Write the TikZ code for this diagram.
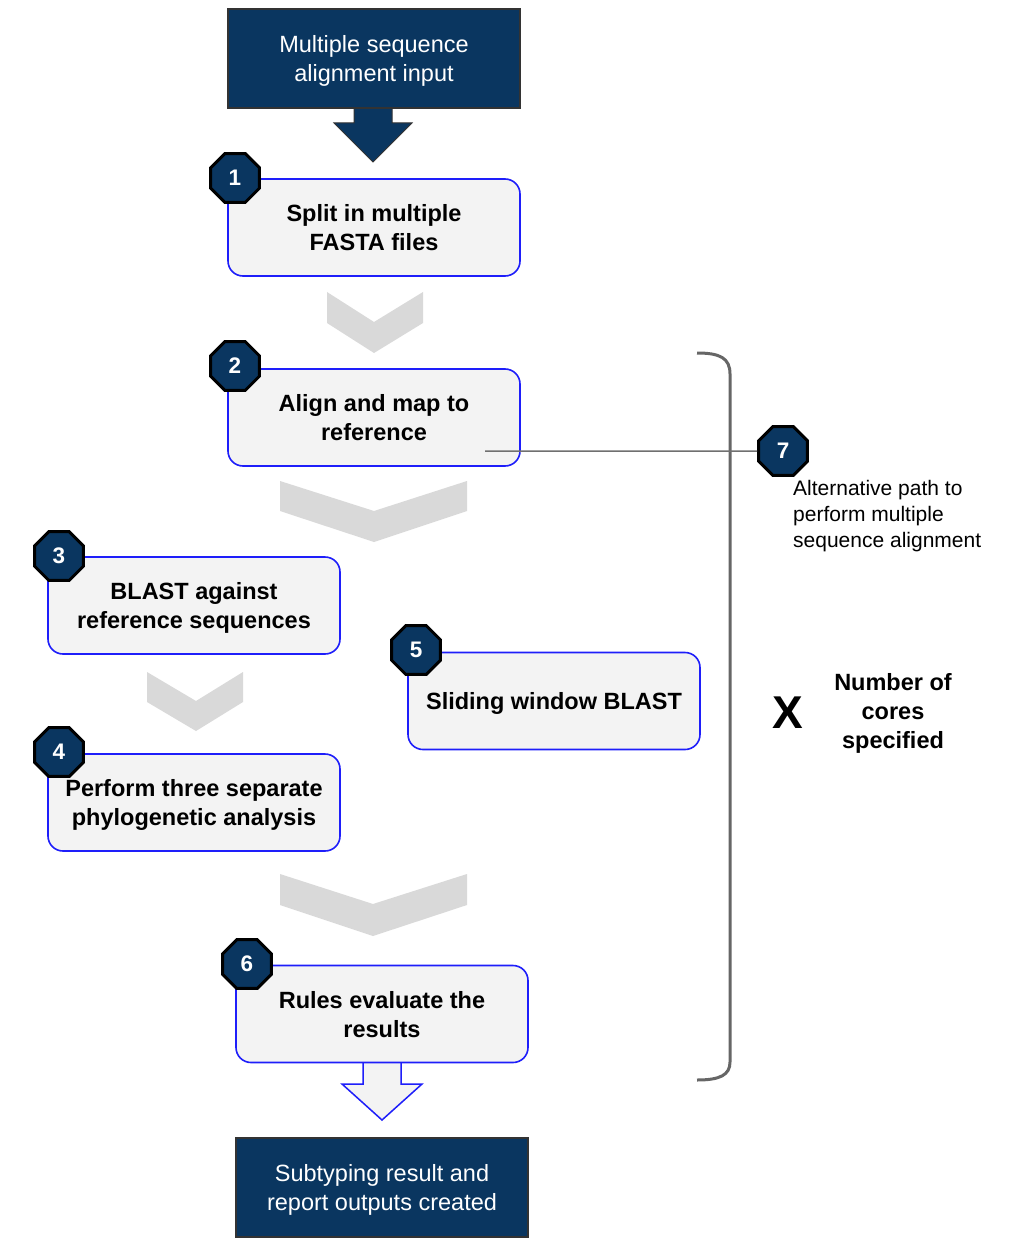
\documentclass[tikz,border=0pt]{standalone}
\usepackage{fontspec}
\setmainfont{Liberation Sans}
\usetikzlibrary{shapes.geometric}
\definecolor{navy}{RGB}{10,54,96}
\definecolor{boxfill}{RGB}{243,243,243}
\definecolor{boxline}{RGB}{30,30,250}
\definecolor{chev}{RGB}{217,217,217}
\definecolor{brk}{RGB}{102,102,102}
\definecolor{lnk}{RGB}{112,112,112}
\begin{document}
\begin{tikzpicture}[x=1pt,y=-1pt,
 stepbox/.style={draw=boxline, line width=1.6pt, fill=boxfill, rounded corners=15pt, minimum width=292pt, minimum height=97pt, align=center, inner sep=0pt, text depth=0pt, font=\fontsize{23.5}{29}\selectfont\bfseries},
 navybox/.style={draw=black!80, line width=1.2pt, fill=navy, minimum width=292pt, minimum height=99pt, align=center, inner sep=0pt, text depth=0pt, text=white, font=\fontsize{23.5}{29}\selectfont},
 badge/.style={regular polygon, regular polygon sides=8, draw=black, line width=3pt, fill=navy, minimum size=53pt, inner sep=0pt, text=white, font=\fontsize{22.5}{22.5}\selectfont\bfseries},
 chevron/.style={fill=chev},
 arrownavy/.style={fill=navy, draw=black!80, line width=1pt},
 arrowlight/.style={fill=boxfill, draw=boxline, line width=1.5pt},
 bracket/.style={draw=brk, line width=3pt},
 link/.style={draw=lnk, line width=1.5pt},
 note/.style={align=left, inner sep=0pt, font=\fontsize{21}{26}\selectfont},
 bold/.style={align=center, inner sep=0pt, text depth=0pt, font=\fontsize{23.5}{29}\selectfont\bfseries}
 ]
\useasboundingbox[fill=white] (0,0) rectangle (1020,1246);

% top input arrow
\path[arrownavy] (354,104) -- (354,123) -- (334,123) -- (373,162) -- (412,123) -- (392,123) -- (392,104) -- cycle;
\node[navybox] (input) at (374,58.5) {Multiple sequence\\alignment input};

% chevrons
\fill[chevron] (327,292) -- (374,322) -- (423,292) -- (423,323) -- (374,353) -- (327,323) -- cycle;
\fill[chevron] (280,481) -- (374,511) -- (467,481) -- (467,511) -- (374,542) -- (280,511) -- cycle;
\fill[chevron] (147,672) -- (196,701) -- (243,672) -- (243,702) -- (196,731) -- (147,702) -- cycle;
\fill[chevron] (280,874) -- (373,904) -- (467,874) -- (467,905) -- (373,936) -- (280,905) -- cycle;

% bottom output arrow
\path[arrowlight] (363,1058) -- (363,1084) -- (342,1084) -- (382,1120) -- (422,1084) -- (401,1084) -- (401,1058) -- cycle;

% steps
\node[stepbox] (s1) at (374,227.5) {Split in multiple\\FASTA files};
\node[stepbox] (s2) at (374,417.5) {Align and map to\\reference};
\node[stepbox] (s3) at (194,605.5) {BLAST against\\reference sequences};
\node[stepbox] (s4) at (194,802.5) {Perform three separate\\phylogenetic analysis};
\node[stepbox] (s5) at (554,701) {Sliding window BLAST};
\node[stepbox] (s6) at (382,1014) {Rules evaluate the\\results};
\node[navybox] (out) at (382,1187.5) {Subtyping result and\\report outputs created};

% bracket
\path[bracket] (697,353) .. controls (720,353) and (730,358) .. (730,374) -- (730,1062) .. controls (730,1075) and (720,1080) .. (697,1080);

% alternative path
\node[badge] (b7) at (783,451) {7};
\coordinate (l7) at (485,451);
\draw[link] (l7) -- (b7.west);
\node[note, anchor=north west] (alt) at (793,480) {Alternative path to\\perform multiple\\sequence alignment};

% badges
\node[badge] (b1) at (235,178) {1};
\node[badge] (b2) at (235,366) {2};
\node[badge] (b3) at (59,556) {3};
\node[badge] (b4) at (59,752) {4};
\node[badge] (b5) at (416,650) {5};
\node[badge] (b6) at (247,964) {6};

% multiplier
\node[font=\fontsize{46}{46}\selectfont\bfseries, inner sep=0pt] (x) at (788,713) {X};
\node[bold] (cores) at (893,711) {Number of\\cores\\specified};
\end{tikzpicture}
\end{document}
